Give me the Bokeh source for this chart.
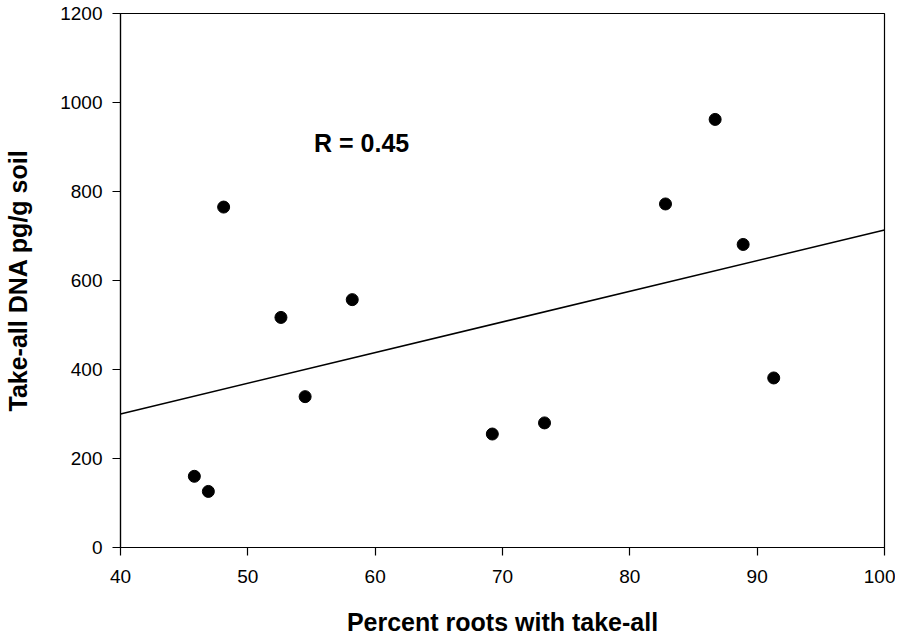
import numpy as np
from bokeh.plotting import figure
from bokeh.models import Range1d, FixedTicker, Label
from bokeh.embed import file_html
from bokeh.resources import INLINE

# Data
percent_roots = [45.8, 46.9, 48.1, 52.6, 54.5, 58.2, 69.2, 73.3, 82.8, 86.7, 88.9, 91.3]
dna_pg_per_g = [160, 126, 765, 517, 339, 557, 255, 280, 772, 962, 681, 381]
x_ticks = [40, 50, 60, 70, 80, 90, 100]
y_ticks = [0, 200, 400, 600, 800, 1000, 1200]
r_label = "R = 0.45"

FONT = "Liberation Sans"

p = figure(frame_width=764, frame_height=534, output_backend="svg", toolbar_location=None,
           x_range=Range1d(40, 100), y_range=Range1d(0, 1200),
           min_border_left=120, min_border_right=11, min_border_top=13, min_border_bottom=80)
p.background_fill_color = "white"
p.border_fill_color = "white"
p.outline_line_color = "black"
p.outline_line_width = 1.2
p.grid.visible = False

for ax in (p.xaxis, p.yaxis):
    ax.axis_line_color = "black"
    ax.axis_line_width = 1.2
    ax.major_tick_line_color = "black"
    ax.major_tick_line_width = 1.2
    ax.major_tick_out = 8
    ax.major_tick_in = 0
    ax.minor_tick_line_color = None
    ax.major_label_text_font = FONT
    ax.major_label_text_font_size = "19px"
    ax.major_label_text_color = "black"
    ax.axis_label_text_font = FONT
    ax.axis_label_text_font_size = "25px"
    ax.axis_label_text_font_style = "bold"
    ax.axis_label_text_color = "black"

p.xaxis.ticker = FixedTicker(ticks=x_ticks)
p.yaxis.ticker = FixedTicker(ticks=y_ticks)
p.xaxis.axis_label = "Percent roots with take-all"
p.yaxis.axis_label = "Take-all DNA pg/g soil"
p.xaxis.major_label_standoff = 14
p.yaxis.major_label_standoff = 10
p.xaxis.axis_label_standoff = 22
p.yaxis.axis_label_standoff = 25

# regression line computed from the data
slope, intercept = np.polyfit(percent_roots, dna_pg_per_g, 1)
fit_x = [x_ticks[0], x_ticks[-1]]
fit_y = [slope * v + intercept for v in fit_x]
p.line(fit_x, fit_y, line_color="black", line_width=1.5)

p.scatter(percent_roots, dna_pg_per_g, size=12, marker="circle",
          fill_color="black", line_color="black")

p.add_layout(Label(x=55.2, y=908, text=r_label, text_font=FONT,
                   text_font_size="25px", text_font_style="bold",
                   text_baseline="alphabetic", text_color="black"))

open("out.html", "w").write(file_html(p, INLINE))
